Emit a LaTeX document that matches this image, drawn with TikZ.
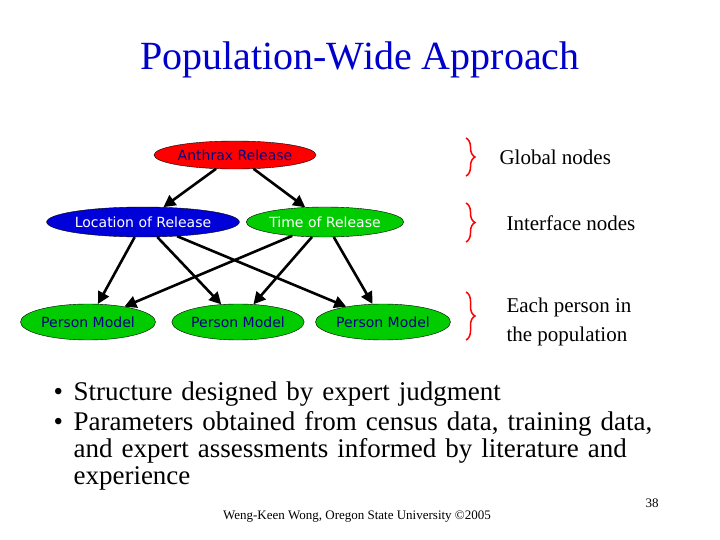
\documentclass[tikz,border=0pt]{standalone}
\usepackage{fontspec}
\setmainfont{Liberation Serif}
\newfontfamily\nodefont{DejaVu Sans}
\usetikzlibrary{shapes.geometric,arrows.meta,decorations.pathreplacing}
\tikzset{
  bnode/.style={ellipse,draw=black,inner sep=0pt,font=\nodefont\fontsize{14}{16}\selectfont},
  conn/.style={-{Triangle[length=12pt,width=12pt]},line width=2.6pt},
  brace/.style={draw=red,line width=1.5pt,decorate,decoration={brace,amplitude=9pt}},
  side/.style={anchor=west,font=\fontsize{21}{24}\selectfont,align=left}
}
\begin{document}
\begin{tikzpicture}[x=1pt,y=-1pt]
\useasboundingbox[fill=white] (0,0) rectangle (720,540);
\node[text=blue!80!black,font=\fontsize{40}{44}\selectfont] (title) at (360,60) {Population-Wide Approach};
% nodes
\node[bnode,fill=red,text=blue!50!black,minimum width=160,minimum height=28] (anthrax) at (235,155) {Anthrax Release};
\node[bnode,fill=blue!85!black,text=white,minimum width=190,minimum height=30] (loc) at (143,222) {Location of Release};
\node[bnode,fill=green!80!black,text=white,minimum width=150,minimum height=30] (time) at (325,222) {Time of Release};
\node[bnode,fill=green!80!black,text=blue!50!black,minimum width=135,minimum height=36] (p1) at (88,322) {Person Model};
\node[bnode,fill=green!80!black,text=blue!50!black,minimum width=130,minimum height=36] (p2) at (238,322) {Person Model};
\node[bnode,fill=green!80!black,text=blue!50!black,minimum width=135,minimum height=36] (p3) at (383,322) {Person Model};
% arrows
\draw[conn] (anthrax) -- (loc);
\draw[conn] (anthrax) -- (time);
\foreach \p in {p1,p2,p3} {
  \draw[conn] (loc) -- (\p);
  \draw[conn] (time) -- (\p);
}
% braces
\coordinate (b1t) at (466,138); \coordinate (b1b) at (466,176);
\coordinate (b2t) at (466,203); \coordinate (b2b) at (466,242);
\coordinate (b3t) at (466,292); \coordinate (b3b) at (466,340);
\draw[brace] (b1t) -- (b1b);
\draw[brace] (b2t) -- (b2b);
\draw[brace] (b3t) -- (b3b);
\node[side] (glob) at (496,157) {Global nodes};
\node[side] (inter) at (503,223) {Interface nodes};
\node[side,font=\fontsize{21}{29}\selectfont] (each) at (503,322) {Each person in\\the population};
% bullets
\node[anchor=north west,font=\fontsize{27}{27}\selectfont,align=left,text width=660] (bul) at (50,378)
{\makebox[20pt][l]{•}Structure designed by expert judgment\\[3pt]
 \makebox[20pt][l]{•}Parameters obtained from census data, training data,\\
 \hspace*{20pt}and expert assessments informed by literature and\\
 \hspace*{20pt}experience};
\node[font=\fontsize{13}{15}\selectfont] (foot) at (357,517) {Weng-Keen Wong, Oregon State University ©2005};
\node[font=\fontsize{13}{15}\selectfont] (num) at (652,503) {38};
\end{tikzpicture}
\end{document}
